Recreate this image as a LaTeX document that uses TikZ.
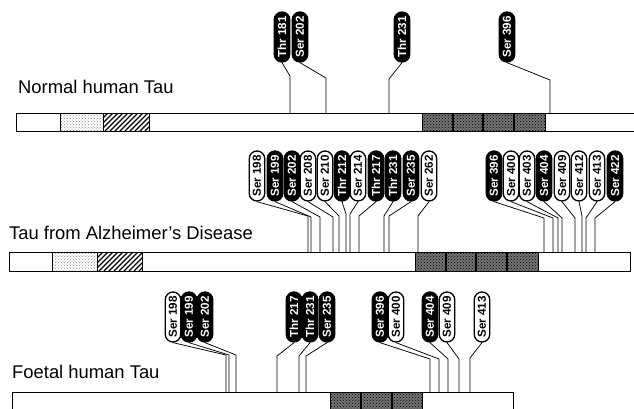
\documentclass[tikz,border=0pt]{standalone}
\usepackage{fontspec}
\setmainfont{Liberation Sans}
\usetikzlibrary{patterns,shapes.misc}

\tikzset{
  pillon/.style={rounded rectangle, draw=black, line width=1.3pt, fill=black, text=white,
    rotate=90, minimum width=51pt, minimum height=15.5pt, inner sep=0.5pt,
    font=\bfseries\fontsize{11.6}{12}\selectfont},
  pilloff/.style={pillon, fill=white, text=black},
  link/.style={line width=0.75pt},
  bar/.style={fill=white, inner sep=0pt, outer sep=0pt, anchor=north west},
  edge/.style={line width=0.9pt},
  dotzone/.style={pattern=crosshatch dots, pattern color=black!45},
  hatchline/.style={line width=1.3pt},
  repeatzone/.style={fill=black!55, postaction={pattern=crosshatch dots, pattern color=black}},
  title/.style={anchor=west, inner sep=0pt, font=\fontsize{18.4}{20}\selectfont},
}

\begin{document}
\begin{tikzpicture}[x=1pt, y=-1pt]
\clip (0,0) rectangle (634,408);
\fill[white] (0,0) rectangle (634,408);

% normal human tau
\node[title] (tnorm) at (18,87) {Normal human Tau};
\node[bar, minimum width=630pt, minimum height=18pt] (nbar) at (16,113) {};
\fill[dotzone] (60,113) rectangle (103,131);
\begin{scope}
  \clip (103,113) rectangle (149,131);
  \foreach \h in {90,95,...,150} \draw[hatchline] (\h,131) -- ++(18,-18);
\end{scope}
\fill[repeatzone] (422,113) rectangle (545,131);
\draw[edge] (16,113) rectangle (640,131) (60,113) -- (60,131) (103,113) -- (103,131) (149,113) -- (149,131) (422,113) rectangle (545,131);
\draw[line width=1.3pt] (453,113) -- (453,131) (483,113) -- (483,131) (514,113) -- (514,131);

\node[pillon] (n181) at (282,37) {Thr 181};
\node[pillon] (n202) at (300,37) {Ser 202};
\node[pillon] (n231) at (402,37) {Thr 231};
\node[pillon] (n396) at (507,37) {Ser 396};
\draw[link] (n181.west) -- (290,76) -- (290,0 |- nbar.north);
\draw[link] (n202.west) -- (326,78) -- (326,0 |- nbar.north);
\draw[link] (n231.west) -- (389,79) -- (389,0 |- nbar.north);
\draw[link] (n396.west) -- (550,80) -- (550,0 |- nbar.north);

% tau from alzheimer's disease
\node[title] (talz) at (9,233) {Tau from Alzheimer's Disease};
\node[bar, minimum width=621pt, minimum height=19pt] (abar) at (9,252) {};
\fill[dotzone] (52,252) rectangle (97,271);
\begin{scope}
  \clip (97,252) rectangle (142,271);
  \foreach \h in {84,89,...,145} \draw[hatchline] (\h,271) -- ++(19,-19);
\end{scope}
\fill[repeatzone] (415,252) rectangle (538,271);
\draw[edge] (9,252) rectangle (630,271) (52,252) -- (52,271) (97,252) -- (97,271) (142,252) -- (142,271) (415,252) rectangle (538,271);
\draw[line width=1.3pt] (446,252) -- (446,271) (476,252) -- (476,271) (507,252) -- (507,271);

\node[pilloff] (a198) at (257,176) {Ser 198};
\node[pillon]  (a199) at (275,176) {Ser 199};
\node[pillon]  (a202) at (292,176) {Ser 202};
\node[pilloff] (a208) at (308,176) {Ser 208};
\node[pilloff] (a210) at (325,176) {Ser 210};
\node[pillon]  (a212) at (342,176) {Thr 212};
\node[pilloff] (a214) at (358,176) {Ser 214};
\node[pillon]  (a217) at (376,176) {Thr 217};
\node[pillon]  (a231) at (393,176) {Thr 231};
\node[pillon]  (a235) at (411,176) {Ser 235};
\node[pilloff] (a262) at (429,176) {Ser 262};
\node[pillon]  (a396) at (494,176) {Ser 396};
\node[pilloff] (a400) at (511,176) {Ser 400};
\node[pilloff] (a403) at (527,176) {Ser 403};
\node[pillon]  (a404) at (544,176) {Ser 404};
\node[pilloff] (a409) at (562,176) {Ser 409};
\node[pilloff] (a412) at (579,176) {Ser 412};
\node[pilloff] (a413) at (597,176) {Ser 413};
\node[pillon]  (a422) at (615,176) {Ser 422};
\draw[link] (a198.west) -- (308,216) -- (308,0 |- abar.north);
\draw[link] (a199.west) -- (311,217) -- (311,0 |- abar.north);
\draw[link] (a202.west) -- (320,217) -- (320,0 |- abar.north);
\draw[link] (a208.west) -- (333,217) -- (333,0 |- abar.north);
\draw[link] (a210.west) -- (339,216) -- (339,0 |- abar.north);
\draw[link] (a212.west) -- (346,214) -- (346,0 |- abar.north);
\draw[link] (a214.west) -- (350,214) -- (350,0 |- abar.north);
\draw[link] (a217.west) -- (359,216) -- (359,0 |- abar.north);
\draw[link] (a231.west) -- (384,216) -- (384,0 |- abar.north);
\draw[link] (a235.west) -- (389,216) -- (389,0 |- abar.north);
\draw[link] (a262.west) -- (418,216) -- (418,0 |- abar.north);
\draw[link] (a396.west) -- (544,218) -- (544,0 |- abar.north);
\draw[link] (a400.west) -- (553,218) -- (553,0 |- abar.north);
\draw[link] (a403.west) -- (558,218) -- (558,0 |- abar.north);
\draw[link] (a404.west) -- (562,218) -- (562,0 |- abar.north);
\draw[link] (a409.west) -- (575,218) -- (575,0 |- abar.north);
\draw[link] (a412.west) -- (582,216) -- (582,0 |- abar.north);
\draw[link] (a413.west) -- (586,218) -- (586,0 |- abar.north);
\draw[link] (a422.west) -- (595,218) -- (595,0 |- abar.north);

% foetal human tau
\node[title] (tfoet) at (12,372) {Foetal human Tau};
\node[bar, minimum width=501pt, minimum height=22pt] (fbar) at (12,392) {};
\fill[repeatzone] (330,392) rectangle (422,414);
\draw[edge] (513,414) -- (513,392) -- (12,392) -- (12,414) (330,414) -- (330,392) -- (422,392) -- (422,414);
\draw[line width=1.3pt] (361,392) -- (361,414) (392,392) -- (392,414);

\node[pilloff] (f198) at (173,317) {Ser 198};
\node[pillon]  (f199) at (189,317) {Ser 199};
\node[pillon]  (f202) at (205,317) {Ser 202};
\node[pillon]  (f217) at (294,317) {Thr 217};
\node[pillon]  (f231) at (310,317) {Thr 231};
\node[pillon]  (f235) at (327,317) {Ser 235};
\node[pillon]  (f396) at (380,317) {Ser 396};
\node[pilloff] (f400) at (396,317) {Ser 400};
\node[pillon]  (f404) at (430,317) {Ser 404};
\node[pilloff] (f409) at (447,317) {Ser 409};
\node[pilloff] (f413) at (482,317) {Ser 413};
\draw[link] (f198.west) -- (226,355) -- (226,0 |- fbar.north);
\draw[link] (f199.west) -- (229,355) -- (229,0 |- fbar.north);
\draw[link] (f202.west) -- (236,355) -- (236,0 |- fbar.north);
\draw[link] (f217.west) -- (277,356) -- (277,0 |- fbar.north);
\draw[link] (f231.west) -- (299,356) -- (299,0 |- fbar.north);
\draw[link] (f235.west) -- (306,356) -- (306,0 |- fbar.north);
\draw[link] (f396.west) -- (430,359) -- (430,0 |- fbar.north);
\draw[link] (f400.west) -- (439,359) -- (439,0 |- fbar.north);
\draw[link] (f404.west) -- (448,359) -- (448,0 |- fbar.north);
\draw[link] (f409.west) -- (459,359) -- (459,0 |- fbar.north);
\draw[link] (f413.west) -- (470,358) -- (470,0 |- fbar.north);
\end{tikzpicture}
\end{document}
